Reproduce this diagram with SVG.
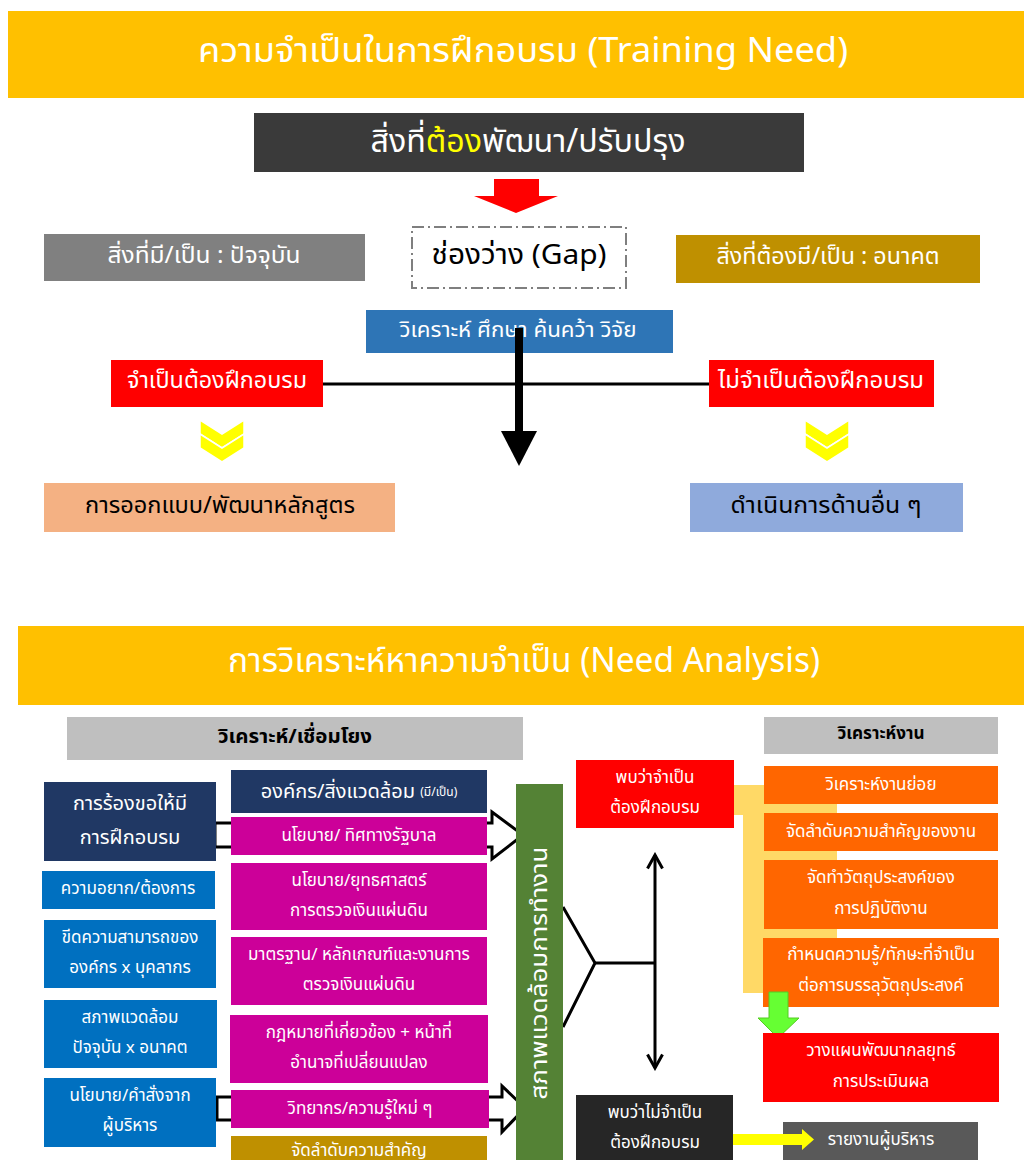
<svg xmlns="http://www.w3.org/2000/svg" width="1024" height="1160" viewBox="0 0 1024 1160">
  <defs>
    <style>
      text { font-family: Tahoma, "Noto Sans Thai", "Noto Sans Thai UI", "Leelawadee UI", "Noto Sans", "DejaVu Sans", sans-serif; text-anchor: middle; dominant-baseline: central; }
      .w { fill: #ffffff; }
      .k { fill: #000000; }
      .b { font-weight: bold; }
      .t34 { font-size: 34px; }
      .t32 { font-size: 32px; }
      .t28 { font-size: 28px; }
      .t23 { font-size: 23px; }
      .t22 { font-size: 22px; }
      .t20 { font-size: 20px; }
      .t19 { font-size: 19px; }
      .t17 { font-size: 17px; }
      .t12 { font-size: 12px; }
      .hollow { fill: #ffffff; stroke: #000000; stroke-width: 3; stroke-linejoin: miter; }
      .ln { stroke: #000000; stroke-width: 3; fill: none; }
      .chev { fill: #FFFF00; stroke: #ffffff; stroke-width: 1.5; }
    </style>
    <marker id="openHead" viewBox="0 0 12 12" refX="10" refY="6" markerWidth="6" markerHeight="6" orient="auto-start-reverse" markerUnits="strokeWidth">
      <path d="M1,1 L10,6 L1,11" fill="none" stroke="#000000" stroke-width="2"/>
    </marker>
  </defs>

  <rect width="1024" height="1160" fill="#ffffff"/>

  <!-- ===== Part 1: Training Need ===== -->
  <g id="header-training-need">
    <rect x="8" y="11" width="1016" height="87" fill="#FFC000"/>
    <text class="w t34" x="523" y="51" textLength="650" lengthAdjust="spacingAndGlyphs">ความจำเป็นในการฝึกอบรม (Training Need)</text>
  </g>

  <g id="node-improve">
    <rect x="254" y="113" width="550" height="59" fill="#3A3A3A"/>
    <text class="w t32" x="528" y="142" textLength="315" lengthAdjust="spacingAndGlyphs">สิ่งที่<tspan fill="#FFFF00">ต้อง</tspan>พัฒนา/ปรับปรุง</text>
  </g>

  <g id="node-current">
    <rect x="44" y="234" width="321" height="47" fill="#808080"/>
    <text class="w t23" x="204" y="256" textLength="193" lengthAdjust="spacingAndGlyphs">สิ่งที่มี/เป็น : ปัจจุบัน</text>
  </g>

  <g id="node-gap">
    <rect x="412" y="227" width="214" height="61" fill="#ffffff" stroke="#7F7F7F" stroke-width="2" stroke-dasharray="12,4,2,4"/>
    <text class="k t28" x="519" y="255" textLength="175" lengthAdjust="spacingAndGlyphs">ช่องว่าง (Gap)</text>
  </g>

  <g id="node-future">
    <rect x="676" y="235" width="304" height="48" fill="#BF9000"/>
    <text class="w t23" x="828" y="257" textLength="223" lengthAdjust="spacingAndGlyphs">สิ่งที่ต้องมี/เป็น : อนาคต</text>
  </g>

  <g id="node-research">
    <rect x="366" y="310" width="307" height="43" fill="#2E75B6"/>
    <text class="w t22" x="518" y="330" textLength="237" lengthAdjust="spacingAndGlyphs">วิเคราะห์ ศึกษา ค้นคว้า วิจัย</text>
  </g>

  <g id="node-need-training">
    <rect x="111" y="360" width="212" height="47" fill="#FF0000"/>
    <text class="w t23" x="217" y="381" textLength="180" lengthAdjust="spacingAndGlyphs">จำเป็นต้องฝึกอบรม</text>
  </g>

  <g id="node-no-training">
    <rect x="709" y="360" width="225" height="47" fill="#FF0000"/>
    <text class="w t23" x="821" y="381" textLength="206" lengthAdjust="spacingAndGlyphs">ไม่จำเป็นต้องฝึกอบรม</text>
  </g>

  <g id="node-curriculum">
    <rect x="44" y="483" width="351" height="49" fill="#F4B183"/>
    <text class="k t23" x="220" y="506" textLength="270" lengthAdjust="spacingAndGlyphs">การออกแบบ/พัฒนาหลักสูตร</text>
  </g>

  <g id="node-other-actions">
    <rect x="690" y="483" width="273" height="49" fill="#8FAADC"/>
    <text class="k t23" x="826" y="506" textLength="191" lengthAdjust="spacingAndGlyphs">ดำเนินการด้านอื่น ๆ</text>
  </g>

  <g id="connectors-top">
    <!-- red block arrow under the title box -->
    <polygon points="494,179 539,179 539,196 558,196 516,213 474,196 494,196" fill="#FF0000"/>
    <!-- line joining the two decisions -->
    <line x1="323" y1="384" x2="709" y2="384" stroke="#000000" stroke-width="3"/>
    <!-- heavy down arrow from research -->
    <rect x="515" y="328" width="8" height="104" fill="#000000"/>
    <polygon points="501,431 537,431 519,466" fill="#000000"/>
    <!-- double chevrons -->
    <g transform="translate(200,420)">
      <polygon class="chev" points="0,0 22,14 44,0 44,14 22,28 0,14"/>
      <polygon class="chev" points="0,14 22,28 44,14 44,28 22,42 0,28"/>
    </g>
    <g transform="translate(805,420)">
      <polygon class="chev" points="0,0 22,14 44,0 44,14 22,28 0,14"/>
      <polygon class="chev" points="0,14 22,28 44,14 44,28 22,42 0,28"/>
    </g>
  </g>

  <!-- ===== Part 2: Need Analysis ===== -->
  <g id="header-need-analysis">
    <rect x="18" y="626" width="1006" height="79" fill="#FFC000"/>
    <text class="w t34" x="524" y="661" textLength="592" lengthAdjust="spacingAndGlyphs">การวิเคราะห์หาความจำเป็น (Need Analysis)</text>
  </g>

  <g id="node-analyze-link">
    <rect x="67" y="717" width="456" height="43" fill="#BFBFBF"/>
    <text class="k t20 b" x="295" y="737" textLength="154" lengthAdjust="spacingAndGlyphs">วิเคราะห์/เชื่อมโยง</text>
  </g>

  <g id="node-analyze-work">
    <rect x="764" y="717" width="234" height="37" fill="#BFBFBF"/>
    <text class="k t17 b" x="881" y="734" textLength="87" lengthAdjust="spacingAndGlyphs">วิเคราะห์งาน</text>
  </g>

  <!-- yellow band behind the task-analysis column -->
  <g id="band-task">
    <polygon points="734,785 837,785 837,993 743,993 743,815 734,815" fill="#FFD966"/>
  </g>

  <g id="connectors-bottom">
    <!-- hollow block arrows into the work-environment bar -->
    <polygon class="hollow" points="215,823 492,823 492,812 523,835 492,859 492,847 215,847"/>
    <polygon class="hollow" points="217,1097 502,1097 502,1086 525,1108 502,1132 502,1120 217,1120"/>
    <!-- bracket from the bar to the decision axis -->
    <polyline class="ln" points="563,907 595,963 563,1027"/>
    <line class="ln" x1="595" y1="963" x2="655" y2="963"/>
    <line class="ln" x1="655" y1="855" x2="655" y2="1068" marker-start="url(#openHead)" marker-end="url(#openHead)"/>
  </g>

  <!-- left column -->
  <g id="node-request">
    <rect x="44" y="782" width="172" height="79" fill="#203864"/>
    <text class="w t20" x="130" y="804">การร้องขอให้มี</text>
    <text class="w t20" x="130" y="838">การฝึกอบรม</text>
  </g>
  <g id="node-desire">
    <rect x="42" y="871" width="173" height="38" fill="#0070C0"/>
    <text class="w t17" x="128" y="889">ความอยาก/ต้องการ</text>
  </g>
  <g id="node-capability">
    <rect x="44" y="920" width="172" height="68" fill="#0070C0"/>
    <text class="w t17" x="130" y="938">ขีดความสามารถของ</text>
    <text class="w t17" x="130" y="968">องค์กร x บุคลากร</text>
  </g>
  <g id="node-environment">
    <rect x="44" y="1000" width="173" height="68" fill="#0070C0"/>
    <text class="w t17" x="130" y="1018">สภาพแวดล้อม</text>
    <text class="w t17" x="130" y="1048">ปัจจุบัน x อนาคต</text>
  </g>
  <g id="node-exec-policy">
    <rect x="44" y="1078" width="172" height="69" fill="#0070C0"/>
    <text class="w t17" x="130" y="1096">นโยบาย/คำสั่งจาก</text>
    <text class="w t17" x="130" y="1126">ผู้บริหาร</text>
  </g>

  <!-- middle column -->
  <g id="node-organization">
    <rect x="231" y="770" width="256" height="43" fill="#203864"/>
    <text class="w t20" x="359" y="792">องค์กร/สิ่งแวดล้อม <tspan class="t12">(มี/เป็น)</tspan></text>
  </g>
  <g id="node-gov-policy">
    <rect x="231" y="817" width="256" height="38" fill="#CC0099"/>
    <text class="w t17" x="359" y="836">นโยบาย/ ทิศทางรัฐบาล</text>
  </g>
  <g id="node-strategy">
    <rect x="231" y="863" width="256" height="67" fill="#CC0099"/>
    <text class="w t17" x="359" y="881">นโยบาย/ยุทธศาสตร์</text>
    <text class="w t17" x="359" y="911">การตรวจเงินแผ่นดิน</text>
  </g>
  <g id="node-standards">
    <rect x="231" y="937" width="256" height="68" fill="#CC0099"/>
    <text class="w t17" x="359" y="955">มาตรฐาน/ หลักเกณฑ์และงานการ</text>
    <text class="w t17" x="359" y="985">ตรวจเงินแผ่นดิน</text>
  </g>
  <g id="node-law">
    <rect x="230" y="1015" width="258" height="68" fill="#CC0099"/>
    <text class="w t17" x="359" y="1033">กฎหมายที่เกี่ยวข้อง + หน้าที่</text>
    <text class="w t17" x="359" y="1063">อำนาจที่เปลี่ยนแปลง</text>
  </g>
  <g id="node-knowledge">
    <rect x="231" y="1090" width="258" height="38" fill="#CC0099"/>
    <text class="w t17" x="360" y="1109">วิทยากร/ความรู้ใหม่ ๆ</text>
  </g>
  <g id="node-priority">
    <rect x="231" y="1136" width="256" height="40" fill="#BF9000"/>
    <text class="w t17" x="359" y="1151">จัดลำดับความสำคัญ</text>
  </g>

  <!-- work environment bar -->
  <g id="node-work-environment">
    <rect x="516" y="784" width="47" height="390" fill="#548235"/>
    <text class="w t23" transform="translate(540,973) rotate(-90)" textLength="253" lengthAdjust="spacingAndGlyphs">สภาพแวดล้อมการทำงาน</text>
  </g>

  <g id="node-found-need">
    <rect x="576" y="760" width="158" height="68" fill="#FF0000"/>
    <text class="w t17" x="655" y="778">พบว่าจำเป็น</text>
    <text class="w t17" x="655" y="808">ต้องฝึกอบรม</text>
  </g>
  <g id="node-found-no-need">
    <rect x="576" y="1095" width="157" height="70" fill="#262626"/>
    <text class="w t17" x="655" y="1113">พบว่าไม่จำเป็น</text>
    <text class="w t17" x="655" y="1143">ต้องฝึกอบรม</text>
  </g>

  <!-- task-analysis column -->
  <g id="node-subtasks">
    <rect x="764" y="766" width="234" height="38" fill="#FF6600"/>
    <text class="w t17" x="881" y="785">วิเคราะห์งานย่อย</text>
  </g>
  <g id="node-task-priority">
    <rect x="764" y="813" width="234" height="38" fill="#FF6600"/>
    <text class="w t17" x="881" y="832">จัดลำดับความสำคัญของงาน</text>
  </g>
  <g id="node-objectives">
    <rect x="764" y="860" width="234" height="69" fill="#FF6600"/>
    <text class="w t17" x="881" y="878">จัดทำวัตถุประสงค์ของ</text>
    <text class="w t17" x="881" y="909">การปฏิบัติงาน</text>
  </g>
  <g id="node-skills">
    <rect x="763" y="938" width="236" height="69" fill="#FF6600"/>
    <text class="w t17" x="881" y="955">กำหนดความรู้/ทักษะที่จำเป็น</text>
    <text class="w t17" x="881" y="986">ต่อการบรรลุวัตถุประสงค์</text>
  </g>

  <!-- green arrow sits over the orange box edge -->
  <g id="connector-green">
    <polygon points="769,992 788,992 788,1018 799,1018 778,1038 758,1018 769,1018" fill="#66FF33" stroke="#55CC22" stroke-width="1"/>
  </g>

  <g id="node-planning">
    <rect x="763" y="1033" width="236" height="69" fill="#FF0000"/>
    <text class="w t17" x="881" y="1051">วางแผนพัฒนากลยุทธ์</text>
    <text class="w t17" x="881" y="1082">การประเมินผล</text>
  </g>

  <g id="node-report">
    <rect x="783" y="1122" width="195" height="45" fill="#595959"/>
    <text class="w t17" x="881" y="1140">รายงานผู้บริหาร</text>
  </g>

  <g id="connector-report">
    <polygon points="733,1134 802,1134 802,1129 814,1139.5 802,1150 802,1145 733,1145" fill="#FFFF00"/>
  </g>
</svg>
